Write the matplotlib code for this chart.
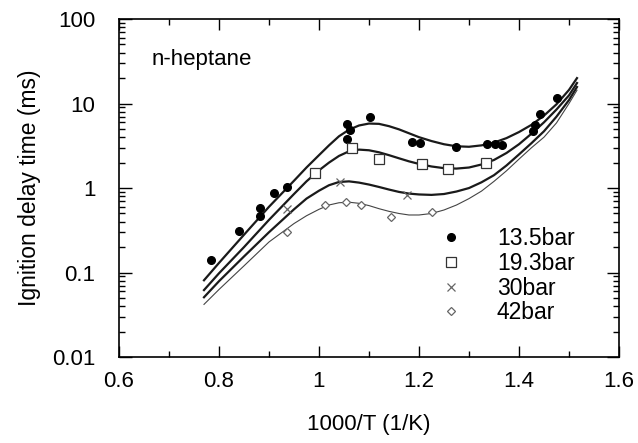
import numpy as np
import matplotlib
matplotlib.use("Agg")
import matplotlib.pyplot as plt
from matplotlib.ticker import LogLocator, MultipleLocator, NullFormatter

plt.rcParams['font.family'] = ['Liberation Sans', 'DejaVu Sans']

# measured points (1000/T, delay in ms)
p135_x = [0.784, 0.84, 0.882, 0.882, 0.91, 0.936, 1.056, 1.062, 1.056, 1.102,
          1.186, 1.202, 1.274, 1.336, 1.352, 1.366, 1.428, 1.432, 1.442, 1.476]
p135_y = [0.14, 0.31, 0.58, 0.47, 0.87, 1.02, 5.7, 4.85, 3.8, 6.9,
          3.5, 3.4, 3.1, 3.35, 3.35, 3.2, 4.7, 5.5, 7.6, 11.5]
p193_x = [0.992, 1.066, 1.12, 1.206, 1.258, 1.334]
p193_y = [1.5, 2.95, 2.2, 1.9, 1.7, 1.98]
p30_x = [0.936, 1.042, 1.176]
p30_y = [0.56, 1.18, 0.83]
p42_x = [0.936, 1.012, 1.054, 1.084, 1.144, 1.226]
p42_y = [0.30, 0.63, 0.68, 0.63, 0.45, 0.52]

# model curves
cx = [0.77, 0.8, 0.85, 0.9, 0.95, 0.975, 1.0, 1.02, 1.04, 1.06, 1.08, 1.1,
      1.12, 1.14, 1.16, 1.18, 1.2, 1.225, 1.25, 1.275, 1.3, 1.325, 1.35,
      1.375, 1.4, 1.425, 1.45, 1.475, 1.5, 1.516]
c135 = [0.081, 0.13, 0.28, 0.6, 1.22, 1.75, 2.45, 3.2, 4.1, 4.9, 5.5, 5.8,
        5.75, 5.4, 4.95, 4.45, 4.0, 3.6, 3.3, 3.12, 3.08, 3.2, 3.45,
        3.9, 4.6, 5.6, 7.2, 9.8, 14.5, 20]
c193 = [0.062, 0.098, 0.2, 0.42, 0.85, 1.2, 1.62, 2.0, 2.4, 2.72, 2.85, 2.8,
        2.65, 2.45, 2.25, 2.07, 1.93, 1.8, 1.72, 1.7, 1.75, 1.9, 2.15,
        2.6, 3.3, 4.4, 6.0, 8.5, 12.5, 17.5]
c30 = [0.051, 0.079, 0.155, 0.3, 0.56, 0.75, 0.93, 1.08, 1.18, 1.2, 1.16, 1.1,
       1.03, 0.96, 0.9, 0.86, 0.84, 0.83, 0.85, 0.91, 1.0, 1.17, 1.42,
       1.85, 2.5, 3.4, 4.7, 7.0, 11.0, 15.7]
c42 = [0.042, 0.063, 0.12, 0.23, 0.38, 0.47, 0.56, 0.63, 0.67, 0.68, 0.66, 0.62,
       0.57, 0.53, 0.5, 0.48, 0.48, 0.5, 0.55, 0.63, 0.75, 0.92, 1.2,
       1.6, 2.2, 3.0, 4.0, 5.9, 10.0, 14.4]

fig = plt.figure(figsize=(6.38, 4.43), dpi=100)
ax = fig.add_axes([0.1865, 0.194, 0.7837, 0.763])

# curves
ax.plot(cx, c135, color='#1a1a1a', lw=1.6)
ax.plot(cx, c193, color='#1a1a1a', lw=1.6)
ax.plot(cx, c30, color='#1a1a1a', lw=1.6)
ax.plot(cx, c42, color='#444444', lw=0.8)

# markers
ax.plot(p135_x, p135_y, 'o', color='black', ms=5.5, label='13.5bar')
ax.plot(p193_x, p193_y, 's', mfc='white', mec='#333333', ms=7, mew=0.9, label='19.3bar')
ax.plot(p30_x, p30_y, 'x', color='#666666', ms=6, mew=0.9, label='30bar')
ax.plot(p42_x, p42_y, 'D', mfc='white', mec='#666666', ms=4.5, mew=0.9, label='42bar')

ax.set_yscale('log')
ax.set_xlim(0.6, 1.6)
ax.set_ylim(0.01, 100)
ax.xaxis.set_minor_locator(MultipleLocator(0.1))
ax.yaxis.set_minor_locator(LogLocator(base=10, subs=np.arange(2, 10)))
ax.yaxis.set_minor_formatter(NullFormatter())
ax.set_yticks([0.01, 0.1, 1, 10, 100])
ax.set_yticklabels(['0.01', '0.1', '1', '10', '100'])
ax.set_xticks([0.6, 0.8, 1.0, 1.2, 1.4, 1.6])
ax.set_xticklabels(['0.6', '0.8', '1', '1.2', '1.4', '1.6'])

ax.tick_params(which='both', direction='in', top=True, right=True, width=1.0)
ax.tick_params(axis='x', which='major', length=8, pad=10, labelsize=16)
ax.tick_params(axis='x', which='minor', length=4)
ax.tick_params(axis='y', which='major', length=9, pad=17, labelsize=16)
ax.tick_params(axis='y', which='minor', length=4.5)
for s in ax.spines.values():
    s.set_linewidth(1.2)

ax.set_xlabel('1000/T (1/K)', fontsize=16, labelpad=16)
ax.set_ylabel('Ignition delay time (ms)', fontsize=16.5, labelpad=8)

ax.text(0.066, 0.879, 'n-heptane', transform=ax.transAxes, fontsize=16, va='center')

ax.legend(loc='upper left', bbox_to_anchor=(0.641, 0.385), frameon=False,
          fontsize=16.5, handlelength=1.0, handletextpad=1.5, labelspacing=0.08,
          borderpad=0, borderaxespad=0, numpoints=1)

fig.savefig('out.png', dpi=100)
